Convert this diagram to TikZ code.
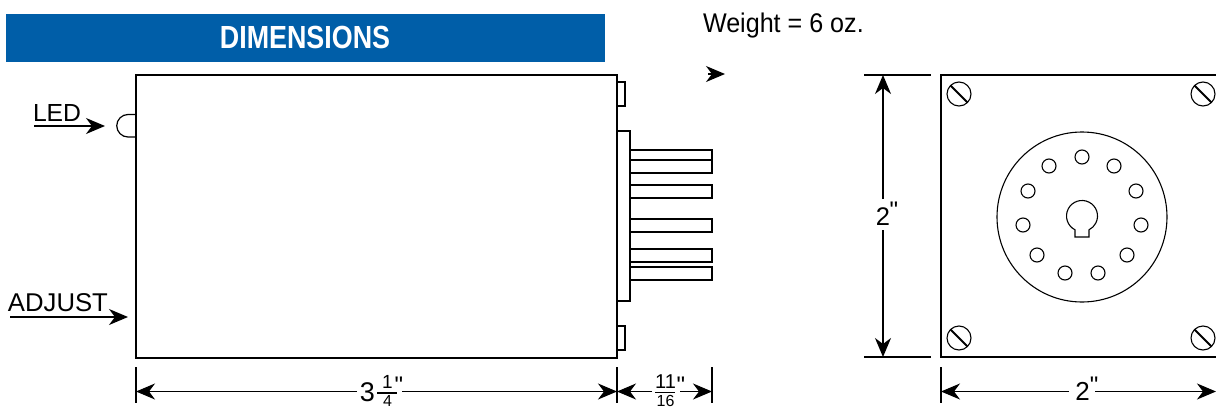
\documentclass[tikz,border=0pt]{standalone}
\usepackage{fontspec}
\setmainfont{Liberation Sans}
\newfontfamily\qfont{Liberation Sans}
\usetikzlibrary{arrows.meta}
\definecolor{hdr}{HTML}{005EA8}
\newcommand{\pxfont}[1]{\fontsize{#1pt}{#1pt}\selectfont}
\tikzset{
  x=1pt,y=-1pt,
  part/.style={draw=black,line width=1.4pt,fill=white,outer sep=0pt},
  dim/.style={draw=black,line width=1.2pt,-{Stealth[length=19pt,width=16pt,inset=6pt]}},
  tick/.style={draw=black,line width=1.3pt},
  lbl/.style={inner sep=0pt,outer sep=0pt,anchor=base west},
  gaplbl/.style={inner sep=0pt,outer sep=0pt},
  qmark/.style={inner sep=0pt,outer sep=0pt,anchor=base},
  hole/.style={circle,draw=black,line width=1.1pt,minimum size=14pt,inner sep=0pt,outer sep=0pt},
  screw/.style={circle,draw=black,line width=1.1pt,minimum size=24pt,inner sep=0pt,outer sep=0pt},
}
\begin{document}
\begin{tikzpicture}
\useasboundingbox (0,0) rectangle (1216,410);
% header
\node[fill=hdr,minimum width=599pt,minimum height=48pt,inner sep=0pt,outer sep=0pt,anchor=north west] (header) at (6,14) {};
\node[gaplbl,text=white,xscale=.84] (title) at (305,37.5) {\pxfont{32}\bfseries DIMENSIONS};
\node[lbl,xscale=.93] (weight) at (703,32) {\pxfont{27}Weight = 6 oz.};
% stray arrowhead
\coordinate (sa) at (708,74);
\coordinate (sb) at (725,74);
\draw[dim] (sa) -- (sb);
% relay body
\node[part,minimum width=481pt,minimum height=283pt,inner sep=0pt,anchor=north west] (body) at (136,75) {};
\draw[line width=1.2pt] (136,114.5) -- (128,114.5) arc[start angle=270,end angle=90,radius=11.25] -- (136,137);
\node[part,minimum width=8pt,minimum height=24pt,inner sep=0pt,anchor=north west] (tabt) at (617,82) {};
\node[part,minimum width=8pt,minimum height=24pt,inner sep=0pt,anchor=north west] (tabb) at (617,326) {};
\foreach \n/\t/\h in {a/150/10,b/160/13,c/185/13,d/219/13,e/249/13,f/267/13}{
  \node[part,minimum width=82pt,minimum height=\h pt,inner sep=0pt,anchor=north west] (pin\n) at (630,\t) {};
}
\node[part,minimum width=13pt,minimum height=170pt,inner sep=0pt,anchor=north west] (block) at (617,131) {};
% left labels
\node[lbl] (led) at (33,121) {\pxfont{24.7}LED};
\coordinate (leds) at (34,126);
\coordinate (ledt) at (105,126);
\draw[dim] (leds) -- (ledt);
\node[lbl] (adj) at (8,311) {\pxfont{25.7}ADJUST};
\coordinate (adjs) at (10,317);
\coordinate (adjt) at (128,317);
\draw[dim] (adjs) -- (adjt);
% bottom dimensions
\coordinate (t1a) at (136,367); \coordinate (t1b) at (136,403);
\coordinate (t2a) at (617,367); \coordinate (t2b) at (617,403);
\coordinate (t3a) at (712,367); \coordinate (t3b) at (712,403);
\draw[tick] (t1a) -- (t1b);
\draw[tick] (t2a) -- (t2b);
\draw[tick] (t3a) -- (t3b);
\node[gaplbl] (w3) at (367.5,392.5) {\pxfont{27}3};
\node[gaplbl] (wn) at (387.5,382) {\pxfont{19}1};
\node[gaplbl] (wd) at (387.5,401) {\pxfont{16}4};
\draw[line width=1.2pt] (377,393) -- (397,393);
\node[qmark] (wq) at (399,393) {\pxfont{24}\qfont "};
\coordinate (m1) at (357,391.5);
\coordinate (m2) at (402,391.5);
\coordinate (a1) at (136,391.5);
\coordinate (a2) at (617,391.5);
\coordinate (a3) at (712,391.5);
\draw[dim] (m1) -- (a1);
\draw[dim] (m2) -- (a2);
\node[gaplbl] (hn) at (665.5,381.5) {\pxfont{20}11};
\node[gaplbl] (hd) at (665.5,401) {\pxfont{16}16};
\draw[line width=1.2pt] (655,392.5) -- (675,392.5);
\node[qmark] (hq) at (681,393) {\pxfont{24}\qfont "};
\coordinate (m3) at (652,391.5);
\coordinate (m4) at (680,391.5);
\draw[dim] (m3) -- (a2);
\draw[dim] (m4) -- (a3);
% front view
\node[part,minimum width=280pt,minimum height=282pt,inner sep=0pt,anchor=north west] (front) at (941,75) {};
\foreach \n/\x/\y in {tl/959/94,tr/1203/94,bl/959/338,br/1203/338}{
  \node[screw] (s\n) at (\x,\y) {};
  \draw[line width=2pt] (s\n.135) -- (s\n.-45);
}
\node[circle,draw=black,line width=1.1pt,minimum size=170pt,inner sep=0pt,outer sep=0pt] (socket) at (1082,217) {};
\foreach \i/\x/\y in {1/1082/157,2/1049/166,3/1114/166,4/1028/191,5/1136/191,6/1023/225,7/1141/225,8/1037/255,9/1127/255,10/1065/273,11/1098/273}{
  \node[hole] (h\i) at (\x,\y) {};
}
\draw[line width=1.1pt] (1075,237) -- (1075,229.8) arc[start angle=116.9,end angle=423.1,radius=15.5] -- (1089,237) -- cycle;
% vertical 2"
\coordinate (v1a) at (864,75); \coordinate (v1b) at (931,75);
\coordinate (v2a) at (864,357); \coordinate (v2b) at (931,357);
\draw[tick] (v1a) -- (v1b);
\draw[tick] (v2a) -- (v2b);
\node[gaplbl] (v2) at (883,217) {\pxfont{25.5}2};
\node[qmark] (vq) at (894,218) {\pxfont{24}\qfont "};
\coordinate (vm1) at (883,199); \coordinate (vm2) at (883,230);
\coordinate (vt) at (883,75); \coordinate (vb) at (883,357);
\draw[dim] (vm1) -- (vt);
\draw[dim] (vm2) -- (vb);
% horizontal 2"
\coordinate (t4a) at (941,367); \coordinate (t4b) at (941,403);
\draw[tick] (t4a) -- (t4b);
\node[gaplbl] (h2) at (1082.5,391.5) {\pxfont{26}2};
\node[qmark] (h2q) at (1094,393) {\pxfont{24}\qfont "};
\coordinate (hm1) at (1069,391.5); \coordinate (hm2) at (1095,391.5);
\coordinate (hl) at (941,391.5); \coordinate (hr) at (1216,391.5);
\draw[dim] (hm1) -- (hl);
\draw[dim] (hm2) -- (hr);
\end{tikzpicture}
\end{document}
